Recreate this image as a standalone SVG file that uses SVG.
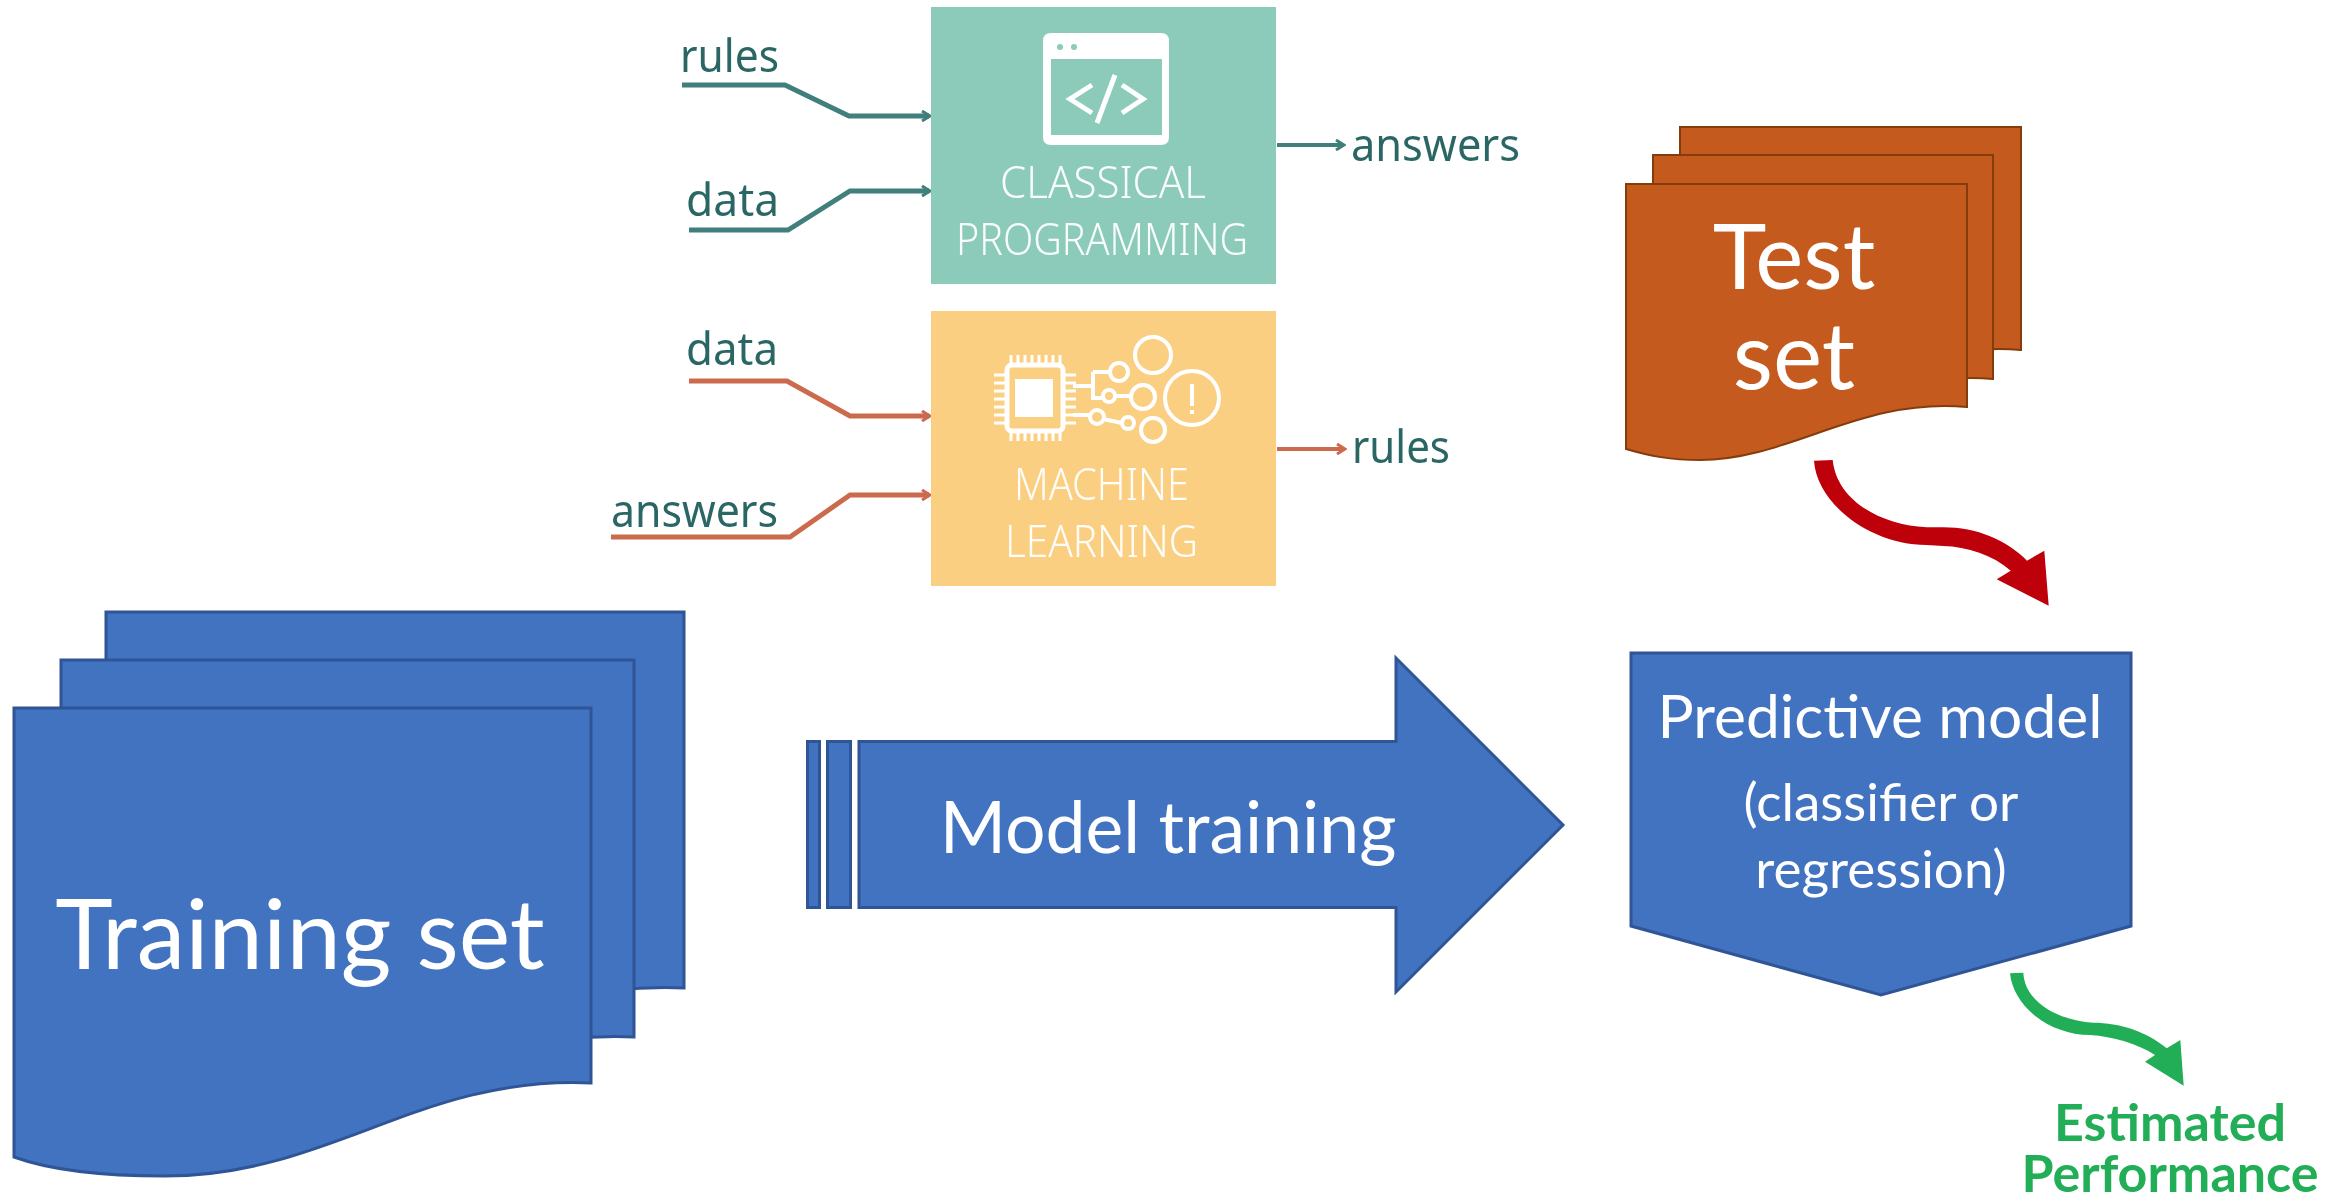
<svg xmlns="http://www.w3.org/2000/svg" width="2346" height="1198" viewBox="0 0 2346 1198">
<style>
.blue{fill:#4273c0;stroke:#2f5597;stroke-width:3}
.orange{fill:#c45a1d;stroke:#843c0c;stroke-width:2}
.w{font-family:Lato,"Open Sans",sans-serif;fill:#fff;text-anchor:middle}
.lab{font-family:"Noto Sans","Open Sans",sans-serif;font-size:46px;fill:#2a6664;font-weight:400}
.cap{font-family:"Noto Sans","Open Sans",sans-serif;font-size:44px;font-weight:300;fill-opacity:.95;fill:#fff}
.t{fill:none;stroke:#3f7f7c;stroke-width:5}
.o{fill:none;stroke:#cb6b4e;stroke-width:5}
.ic{fill:none;stroke:#fff;stroke-width:4}
.g{font-family:Lato,"Open Sans",sans-serif;font-weight:700;font-size:52px;fill:#22ae57;text-anchor:middle}
</style>
<defs>
<marker id="at" markerWidth="12" markerHeight="12" refX="9" refY="6" orient="auto" markerUnits="userSpaceOnUse"><path d="M2,1 L10,6 L2,11" fill="none" stroke="#3f7f7c" stroke-width="3"/></marker>
<marker id="ao" markerWidth="12" markerHeight="12" refX="9" refY="6" orient="auto" markerUnits="userSpaceOnUse"><path d="M2,1 L10,6 L2,11" fill="none" stroke="#cb6b4e" stroke-width="3"/></marker>
<filter id="soft" x="-5%" y="-5%" width="110%" height="110%"><feGaussianBlur stdDeviation="0.7"/></filter>
</defs>
<rect width="2346" height="1198" fill="#fff"/>
<g id="connectors">
<g filter="url(#soft)">
<path class="t" d="M682,85 H785 L849,116 H929" marker-end="url(#at)"/>
<path class="t" d="M689,230 H788 L850,191 H929" marker-end="url(#at)"/>
<path class="t" style="stroke-width:4" d="M1277,145 H1343" marker-end="url(#at)"/>
<path class="o" d="M689,381 H787 L850,416 H929" marker-end="url(#ao)"/>
<path class="o" d="M611,537 H790 L850,495 H929" marker-end="url(#ao)"/>
<path class="o" style="stroke-width:4" d="M1277,449 H1344" marker-end="url(#ao)"/>
</g>
<path id="red-arrow" fill="#be000a" d="M1814,460.7 C1816.7,503.3 1870,545 1926.7,545 L1943.3,546 C1966.7,546.7 1993.3,555 2010.7,570.7 L1996.7,579.3 L2048.7,605.7 L2044.3,550.7 L2027,560.7 C2006.7,540 1976.7,527.3 1943.3,527.3 L1926.7,527.3 C1880,525 1836.7,500 1832.7,460 Z"/>
<path id="green-arrow" fill="#22ae57" d="M2010,973.3 C2013.3,1006.7 2050,1035 2090,1035 C2113.3,1036.7 2136.7,1043.3 2155,1055 L2145,1061.7 L2183.7,1085.7 L2180.3,1040 L2166.7,1048.3 C2146.7,1031.7 2120,1022.7 2093.3,1022.7 C2060,1020.7 2025,1003.3 2023.3,972.7 Z"/>
</g>
<g id="classical-programming" filter="url(#soft)">
<rect x="931" y="7" width="345" height="277" fill="#8ccbb9"/>
<path d="M1051,33 H1161 Q1169,33 1169,41 V137 Q1169,145 1161,145 H1051 Q1043,145 1043,137 V41 Q1043,33 1051,33 Z M1051,59 V135 H1162 V59 Z" fill="#fff" fill-rule="evenodd"/>
<circle cx="1060" cy="47" r="3" fill="#8ccbb9"/><circle cx="1074" cy="47" r="3" fill="#8ccbb9"/>
<path class="ic" style="stroke-width:5" d="M1092,85 L1070,99 L1092,113 M1122,85 L1143,99 L1122,113 M1115,75 L1097,123"/>
<text class="cap" x="1000" y="198" textLength="206" lengthAdjust="spacingAndGlyphs">CLASSICAL</text>
<text class="cap" x="956" y="255" textLength="292" lengthAdjust="spacingAndGlyphs">PROGRAMMING</text>
</g>
<g id="machine-learning" filter="url(#soft)">
<rect x="931" y="311" width="345" height="275" fill="#fbcf82"/>
<rect x="1007" y="365" width="56" height="66" rx="5" class="ic" style="stroke-width:5"/>
<rect x="1015" y="379" width="38" height="38" fill="#fff"/>
<path class="ic" style="stroke-width:3" d="M1011,355V365M1018,355V365M1025,355V365M1032,355V365M1039,355V365M1046,355V365M1053,355V365M1060,355V365M1011,431V441M1018,431V441M1025,431V441M1032,431V441M1039,431V441M1046,431V441M1053,431V441M1060,431V441M994,375H1007M994,383H1007M994,391H1007M994,399H1007M994,407H1007M994,415H1007M994,423H1007M1063,375H1076M1063,383H1076M1063,391H1076M1063,399H1076M1063,407H1076M1063,415H1076M1063,423H1076"/>
<path class="ic" d="M1073,386 H1093 M1093,372 V398 H1103 M1093,372 H1110 M1115,396 H1131 M1073,415 H1090 M1103,419 L1122,423"/>
<circle class="ic" cx="1153" cy="355" r="18"/><circle class="ic" cx="1119" cy="372" r="9"/><circle class="ic" cx="1109" cy="396" r="6"/><circle class="ic" cx="1143" cy="397" r="12"/><circle class="ic" cx="1192" cy="398" r="27"/><circle class="ic" cx="1097" cy="417" r="7"/><circle class="ic" cx="1128" cy="423" r="6"/><circle class="ic" cx="1153" cy="430" r="12"/>
<path class="ic" d="M1192,384 V406 M1192,410 V414"/>
<text class="cap" x="1014" y="500" textLength="175" lengthAdjust="spacingAndGlyphs">MACHINE</text>
<text class="cap" x="1005" y="557" textLength="193" lengthAdjust="spacingAndGlyphs">LEARNING</text>
</g>
<g id="labels" filter="url(#soft)">
<text class="lab" x="680" y="72" textLength="99" lengthAdjust="spacingAndGlyphs">rules</text>
<text class="lab" x="686" y="216" textLength="93" lengthAdjust="spacingAndGlyphs">data</text>
<text class="lab" x="1351" y="161" textLength="169" lengthAdjust="spacingAndGlyphs">answers</text>
<text class="lab" x="686" y="365" textLength="92" lengthAdjust="spacingAndGlyphs">data</text>
<text class="lab" x="611" y="527" textLength="167" lengthAdjust="spacingAndGlyphs">answers</text>
<text class="lab" x="1352" y="463" textLength="98" lengthAdjust="spacingAndGlyphs">rules</text>
</g>
<g id="training-set">
<path class="blue" d="M106,612 H684 V988 C510,980 420,1080 258,1080 C190,1080 145,1074 106,1060 Z"/>
<path class="blue" d="M61,660 H634 V1037 C465,1029 375,1128 213,1128 C145,1128 100,1122 61,1108 Z"/>
<path class="blue" d="M14,708 H591 V1083 C420,1075 330,1176 165,1176 C100,1176 50,1170 14,1157 Z"/>
<text class="w" x="300" y="969" font-size="97.500">Training set</text>
</g>
<g id="test-set">
<path class="orange" d="M1680,127 H2021 V350 C1915,340 1845,403 1754,403 C1724,403 1704,399 1680,392 Z"/>
<path class="orange" d="M1653,155 H1993 V379 C1887,369 1817,432 1726,432 C1696,432 1677,428 1653,421 Z"/>
<path class="orange" d="M1626,184 H1967 V407 C1860,397 1790,460 1700,460 C1670,460 1650,456 1626,449 Z"/>
<text class="w" x="1794" y="289" font-size="91">Test</text>
<text class="w" x="1794" y="389" font-size="93">set</text>
</g>
<g id="model-training">
<rect class="blue" x="807.500" y="741.500" width="12" height="166"/>
<rect class="blue" x="827.500" y="741.500" width="23" height="166"/>
<path class="blue" d="M859,741.500 H1396 V658 L1563,825 L1396,992 V907.500 H859 Z"/>
<text class="w" x="1168" y="853" font-size="71.500">Model training</text>
</g>
<g id="predictive-model">
<path class="blue" d="M1631,653 H2131 V926 L1881,995 L1631,926 Z"/>
<text class="w" x="1880" y="738" font-size="60.500">Predictive model</text>
<text class="w" x="1881" y="821" font-size="53">(classifier or</text>
<text class="w" x="1881" y="888" font-size="53">regression)</text>
</g>
<g id="estimated-performance">
<text class="g" x="2170" y="1141">Estimated</text>
<text class="g" x="2170" y="1192">Performance</text>
</g>
</svg>
